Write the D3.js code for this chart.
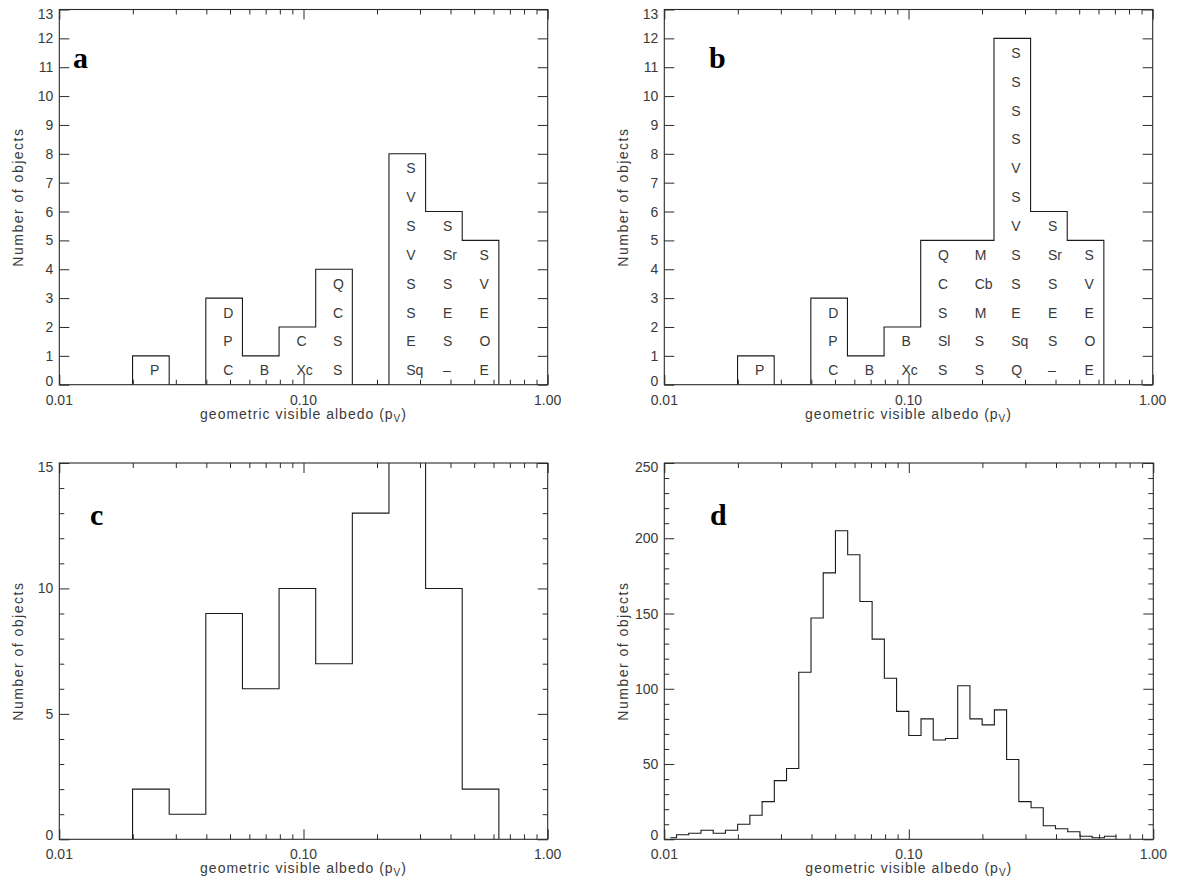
<!DOCTYPE html>
<html><head><meta charset="utf-8">
<script src="https://cdn.jsdelivr.net/npm/d3@7"></script>
<style>
body{margin:0;background:#fff}
svg text{font-family:"Liberation Sans",Arial,sans-serif}
svg text.plabel{font-family:"Liberation Serif","Times New Roman",serif;font-weight:bold}
</style>
</head><body>
<svg id="chart" width="1178" height="884"></svg>
<script>
// ---------- data ----------
// log10 albedo bin edges for panels a, b, c (0.15 dex bins)
const binEdgesLog = [-1.70,-1.55,-1.40,-1.25,-1.10,-0.95,-0.80,-0.65,-0.50,-0.35,-0.20];
const countsA = [1,0,3,1,2,4,0,8,6,5];
const classesA = [["P"],[],["C","P","D"],["B"],["Xc","C"],["S","S","C","Q"],[],
  ["Sq","E","S","S","V","S","V","S"],["–","S","E","S","Sr","S"],["E","O","E","V","S"]];
const countsB = [1,0,3,1,2,5,5,12,6,5];
const classesB = [["P"],[],["C","P","D"],["B"],["Xc","B"],["S","Sl","S","C","Q"],["S","S","M","Cb","M"],
  ["Q","Sq","E","S","S","V","S","V","S","S","S","S"],["–","S","E","S","Sr","S"],["E","O","E","V","S"]];
const countsC = [2,1,9,6,10,7,13,17,10,2];
// panel d: 0.05 dex bins (first bin is a half bin)
const fineEdgesLog = [-1.975, -1.95,-1.90,-1.85,-1.80,-1.75,-1.70,-1.65,-1.60,-1.55,-1.50,-1.45,-1.40,-1.35,-1.30,
  -1.25,-1.20,-1.15,-1.10,-1.05,-1.00,-0.95,-0.90,-0.85,-0.80,-0.75,-0.70,-0.65,-0.60,-0.55,-0.50,
  -0.45,-0.40,-0.35,-0.30,-0.25,-0.20,-0.15];
const countsD = [1,3,4,6,4,6,10,16,25,39,47,111,147,177,205,189,158,133,107,85,69,80,66,67,102,80,76,86,53,25,21,9,7,5,2,1,2];

const xMajorTicks = [0.01, 0.1, 1];
const xTickLabels = ["0.01","0.10","1.00"];
const yTicksAB = [0,1,2,3,4,5,6,7,8,9,10,11,12,13];
const yTicksC = [0,5,10,15];
const yTicksD = [0,50,100,150,200,250];
const xTitle = "geometric visible albedo (p";
const xTitleSub = "V";
const yTitle = "Number of objects";

// ---------- layout ----------
const panels = [
  {id:"a", x0:59.3, x1:547.7, y0:9.5, y1:384.7, ymax:13, edges:binEdgesLog, counts:countsA, classes:classesA,
    yTicks:yTicksAB, yMinorStep:null, closed:true, lx:73, ly:68},
  {id:"b", x0:664.3, x1:1152.7, y0:9.5, y1:384.7, ymax:13, edges:binEdgesLog, counts:countsB, classes:classesB,
    yTicks:yTicksAB, yMinorStep:null, closed:true, lx:709, ly:68},
  {id:"c", x0:59.3, x1:547.7, y0:463, y1:839.3, ymax:15, edges:binEdgesLog, counts:countsC, classes:null,
    yTicks:yTicksC, yMinorStep:1, closed:true, lx:90, ly:525},
  {id:"d", x0:664.3, x1:1153.3, y0:463, y1:839.3, ymax:250, edges:fineEdgesLog, counts:countsD, classes:null,
    yTicks:yTicksD, yMinorStep:10, closed:false, lx:710, ly:525}
];

const svg = d3.select("#chart");
const lineCol = "#1a1a1a", axisCol = "#2a2a2a", textCol = "#3a3a3a";

panels.forEach((p, pi) => {
  const x = d3.scaleLog().domain([0.01, 1]).range([p.x0, p.x1]);
  const y = d3.scaleLinear().domain([0, p.ymax]).range([p.y1, p.y0]);
  const g = svg.append("g");

  const clipId = "clip" + p.id;
  svg.append("clipPath").attr("id", clipId).append("rect")
    .attr("x", p.x0).attr("y", p.y0).attr("width", p.x1 - p.x0).attr("height", p.y1 - p.y0);

  // histogram outline
  const pts = [];
  if (p.closed) pts.push([p.edges[0], 0]);
  p.counts.forEach((c, i) => { pts.push([p.edges[i], c]); pts.push([p.edges[i + 1], c]); });
  if (p.closed) pts.push([p.edges[p.edges.length - 1], 0]);
  const line = d3.line().x(d => x(Math.pow(10, d[0]))).y(d => y(d[1]));
  g.append("path").attr("d", line(pts)).attr("fill", "none").attr("stroke", lineCol)
    .attr("stroke-width", 1.1).attr("clip-path", `url(#${clipId})`);

  // frame
  g.append("rect").attr("x", p.x0).attr("y", p.y0).attr("width", p.x1 - p.x0).attr("height", p.y1 - p.y0)
    .attr("fill", "none").attr("stroke", axisCol).attr("stroke-width", 1.1);

  // x ticks (bottom + top, inward)
  const minor = x.ticks().filter(v => !xMajorTicks.some(m => Math.abs(m - v) < 1e-9));
  const addX = (vals, len) => {
    g.append("g").attr("transform", `translate(0,${p.y1})`)
      .call(d3.axisBottom(x).tickValues(vals).tickSize(-len).tickSizeOuter(0).tickFormat(""))
      .call(a => a.select(".domain").remove()).selectAll("line").attr("stroke", axisCol);
    g.append("g").attr("transform", `translate(0,${p.y0})`)
      .call(d3.axisTop(x).tickValues(vals).tickSize(-len).tickSizeOuter(0).tickFormat(""))
      .call(a => a.select(".domain").remove()).selectAll("line").attr("stroke", axisCol);
  };
  addX(xMajorTicks, 10);
  addX(minor, 5);

  // y ticks (left + right, inward)
  const addY = (vals, len) => {
    g.append("g").attr("transform", `translate(${p.x0},0)`)
      .call(d3.axisLeft(y).tickValues(vals).tickSize(-len).tickSizeOuter(0).tickFormat(""))
      .call(a => a.select(".domain").remove()).selectAll("line").attr("stroke", axisCol);
    g.append("g").attr("transform", `translate(${p.x1},0)`)
      .call(d3.axisRight(y).tickValues(vals).tickSize(-len).tickSizeOuter(0).tickFormat(""))
      .call(a => a.select(".domain").remove()).selectAll("line").attr("stroke", axisCol);
  };
  addY(p.yTicks, 10);
  if (p.yMinorStep) {
    const mv = d3.range(0, p.ymax + 1e-9, p.yMinorStep).filter(v => !p.yTicks.includes(v));
    addY(mv, 5);
  }

  // x tick labels
  g.selectAll(".xl").data(xMajorTicks).join("text")
    .attr("x", d => x(d)).attr("y", p.y1 + 20).attr("text-anchor", "middle")
    .attr("font-size", 14).attr("fill", textCol).text((d, i) => xTickLabels[i]);

  // y tick labels (end labels shifted inward)
  const last = p.yTicks.length - 1;
  g.selectAll(".yl").data(p.yTicks).join("text")
    .attr("x", p.x0 - 6).attr("text-anchor", "end")
    .attr("y", (d, i) => y(d) + (i === 0 ? 1 : i === last ? 9 : 5))
    .attr("font-size", 14).attr("fill", textCol).text(d => d);

  // axis titles
  const xt = g.append("text").attr("x", (p.x0 + p.x1) / 2).attr("y", p.y1 + 34)
    .attr("text-anchor", "middle").attr("font-size", 14).attr("letter-spacing", 1)
    .attr("fill", textCol);
  xt.append("tspan").text(xTitle);
  xt.append("tspan").attr("font-size", 10).attr("dy", 3).text(xTitleSub);
  xt.append("tspan").attr("dy", -3).text(")");

  g.append("text").attr("transform", `translate(${p.x0 - 36},${(p.y0 + p.y1) / 2}) rotate(-90)`)
    .attr("text-anchor", "middle").attr("font-size", 14).attr("letter-spacing", 1.5)
    .attr("fill", textCol).text(yTitle);

  // class letters inside bins
  if (p.classes) {
    p.classes.forEach((col, i) => {
      const cx = x(Math.pow(10, (p.edges[i] + p.edges[i + 1]) / 2));
      col.forEach((lab, k) => {
        g.append("text").attr("x", cx - 1).attr("y", y(k + 0.5) + 5)
          .attr("font-size", 14).attr("fill", textCol).text(lab);
      });
    });
  }

  // panel letter
  g.append("text").attr("class", "plabel").attr("x", p.lx).attr("y", p.ly)
    .attr("font-size", 30).attr("fill", "#000").text(p.id);
});
</script>
</body></html>
